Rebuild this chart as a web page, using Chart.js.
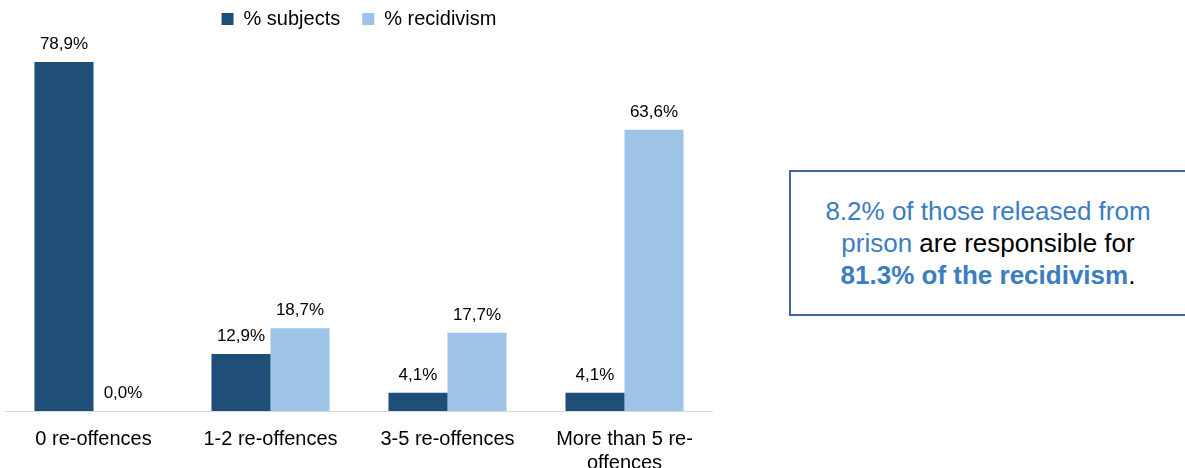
<!DOCTYPE html>
<html>
<head>
<meta charset="utf-8">
<script src="https://cdn.jsdelivr.net/npm/chart.js@4"></script>
<style>
  body { margin: 0; background: #fff; width: 1185px; height: 468px; overflow: hidden; position: relative; font-family: "Liberation Sans", Arial, sans-serif; }
  #wrap { position: absolute; left: 0; top: 0; width: 713px; height: 483px; }
  .note {
    position: absolute; left: 789px; top: 170px; width: 398px; height: 146px;
    border: 2px solid #41679a; box-sizing: border-box;
    display: flex; align-items: center; justify-content: center; text-align: center;
    font-size: 26px; line-height: 32px; color: #000;
  }
  .blue { color: #3a7dc0; }
  .note b { color: #3a7dc0; }
</style>
</head>
<body>
<div id="wrap"><canvas id="chart"></canvas></div>
<div class="note"><div><span class="blue">8.2% of those released from<br>prison</span> are responsible for<br><b>81.3% of the recidivism</b>.</div></div>
<script>
const categories = ['0 re-offences', '1-2 re-offences', '3-5 re-offences', ['More than 5 re-', 'offences']];
const subjects = [78.9, 12.9, 4.1, 4.1];
const recidivism = [0.0, 18.7, 17.7, 63.6];

const FONT = '"Liberation Sans", Arial, sans-serif';

// draws the value above each bar, comma decimals
const valueLabels = {
  id: 'valueLabels',
  afterDatasetsDraw(chart) {
    const ctx = chart.ctx;
    ctx.save();
    ctx.font = '17px ' + FONT;
    ctx.fillStyle = '#000';
    ctx.textAlign = 'center';
    ctx.textBaseline = 'alphabetic';
    chart.data.datasets.forEach((ds, i) => {
      chart.getDatasetMeta(i).data.forEach((bar, j) => {
        const txt = ds.data[j].toFixed(1).replace('.', ',') + '%';
        ctx.fillText(txt, bar.x, bar.y - 13);
      });
    });
    ctx.restore();
  }
};

new Chart(document.getElementById('chart'), {
  type: 'bar',
  data: {
    labels: categories,
    datasets: [
      { label: '% subjects', data: subjects, backgroundColor: '#1f4e79' },
      { label: '% recidivism', data: recidivism, backgroundColor: '#9dc3e6' }
    ]
  },
  options: {
    responsive: true,
    maintainAspectRatio: false,
    animation: false,
    layout: { padding: { left: 5, right: 0, top: -13, bottom: 0 } },
    datasets: { bar: { categoryPercentage: 0.667, barPercentage: 1.0 } },
    plugins: {
      legend: {
        position: 'top',
        labels: {
          boxWidth: 12, boxHeight: 12, color: '#000', padding: 22,
          font: { size: 20, family: FONT }
        }
      },
      tooltip: { enabled: false }
    },
    scales: {
      x: {
        grid: { display: false },
        border: { display: true, color: '#d9d9d9', width: 1 },
        ticks: {
          color: '#000', maxRotation: 0, autoSkip: false, padding: 8,
          font: { size: 20, family: FONT, lineHeight: 1.2 }
        }
      },
      y: { display: false, min: 0, max: 84.1 }
    }
  },
  plugins: [valueLabels]
});
</script>
</body>
</html>
